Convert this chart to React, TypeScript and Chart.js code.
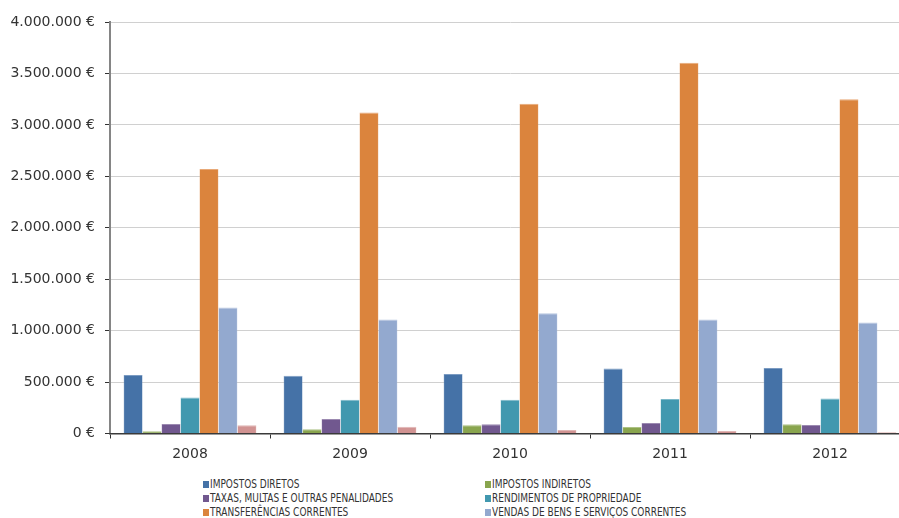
import React, { useEffect, useRef } from "react";
import { Chart, registerables } from "chart.js";

Chart.register(...registerables);

const categories = ["2008", "2009", "2010", "2011", "2012"];
const impostosDiretos = [568000, 561000, 578000, 633000, 636000];
const impostosIndiretos = [21000, 41000, 80000, 63000, 89000];
const taxasMultas = [92000, 141000, 89000, 102000, 83000];
const rendimentos = [351000, 328000, 328000, 335000, 341000];
const transferencias = [2571000, 3121000, 3206000, 3604000, 3248000];
const vendas = [1225000, 1109000, 1170000, 1109000, 1080000];
const outras = [80000, 66000, 34000, 24000, 12000];

const seriesLabels = [
  "IMPOSTOS DIRETOS",
  "IMPOSTOS INDIRETOS",
  "TAXAS, MULTAS E OUTRAS PENALIDADES",
  "RENDIMENTOS DE PROPRIEDADE",
  "TRANSFERÊNCIAS CORRENTES",
  "VENDAS DE BENS E SERVIÇOS CORRENTES",
  "OUTRAS RECEITAS CORRENTES",
];
const seriesValues = [impostosDiretos, impostosIndiretos, taxasMultas, rendimentos, transferencias, vendas, outras];
const seriesColors = ["#4572A7", "#89A54E", "#71588F", "#4198AF", "#DB843D", "#93A9CF", "#D19392"];
const seriesEdges = ["#7B9BC2", "#ADC285", "#9C8AB1", "#7BB8C8", "#E8A978", "#B7C6E0", "#E0B6B5"];
const legendCount = 6;

const yMax = 4000000;
const yStep = 500000;

function formatEuro(v: number): string {
  const s = Math.round(v).toString().replace(/\B(?=(\d{3})+(?!\d))/g, ".");
  return s + " €";
}

export default function App() {
  const ref = useRef<HTMLCanvasElement | null>(null);

  useEffect(() => {
    if (!ref.current) return;
    const chart = new Chart(ref.current, {
      type: "bar",
      data: {
        labels: categories,
        datasets: seriesValues.map((vals, i) => ({
          label: seriesLabels[i],
          data: vals,
          backgroundColor: seriesColors[i],
          borderColor: seriesEdges[i],
          borderWidth: { top: 1, left: 0.5, right: 0.5, bottom: 0 },
          categoryPercentage: 0.83,
          barPercentage: 1,
        })),
      },
      options: {
        responsive: false,
        animation: false,
        devicePixelRatio: 1,
        layout: { padding: { top: 22, left: 0, right: 0, bottom: 0 } },
        plugins: { legend: { display: false }, tooltip: { enabled: false } },
        scales: {
          x: {
            afterFit: (s: any) => {
              s.height = 36.5;
            },
            grid: {
              display: true,
              drawOnChartArea: false,
              offset: true,
              tickLength: 5,
              tickColor: "#333333",
            },
            border: { display: true, color: "#3a3a3a", width: 1.5, z: 2 },
            ticks: {
              color: "#333333",
              padding: 7,
              font: { family: "DejaVu Sans", size: 14 },
            },
          },
          y: {
            min: 0,
            max: yMax,
            afterFit: (s: any) => {
              s.width = 110;
            },
            grid: {
              color: "#D0D0D0",
              lineWidth: 1,
              tickLength: 5,
              tickColor: "#333333",
            },
            border: { display: true, color: "#858585", width: 2 },
            ticks: {
              stepSize: yStep,
              color: "#333333",
              padding: 10,
              font: { family: "DejaVu Sans", size: 14 },
              callback: (v: any) => formatEuro(Number(v)),
            },
          },
        },
      },
    });
    return () => chart.destroy();
  }, []);

  const legendItems = seriesLabels.slice(0, legendCount).map((label, i) => {
    const col = i % 2;
    const row = Math.floor(i / 2);
    return (
      <div
        key={label}
        style={{
          position: "absolute",
          left: col === 0 ? 203 : 485,
          top: 477 + row * 14,
          height: 14,
          display: "flex",
          alignItems: "center",
          whiteSpace: "nowrap",
        }}
      >
        <span style={{ width: 6, height: 7, background: seriesColors[i], display: "inline-block", marginRight: 1 }} />
        <span
          style={{
            fontFamily: "'DejaVu Sans Condensed', sans-serif",
            fontSize: 12.5,
            color: "#333333",
            lineHeight: "14px",
            display: "inline-block",
            transform: "scaleX(0.8)",
            transformOrigin: "left center",
          }}
        >
          {label}
        </span>
      </div>
    );
  });

  return (
    <div style={{ position: "absolute", left: 0, top: 0, width: 899, height: 518, overflow: "hidden", background: "#fff" }}>
      <canvas ref={ref} width={910} height={470} style={{ position: "absolute", left: 0, top: 0 }} />
      {legendItems}
    </div>
  );
}
